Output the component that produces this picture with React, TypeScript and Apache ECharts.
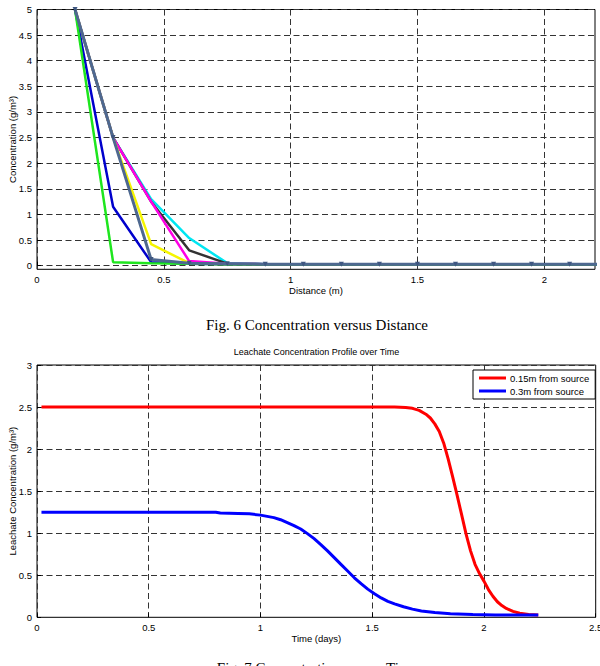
import React, { useEffect, useRef } from "react";
import * as echarts from "echarts";

// Fig. 6 – concentration along the column at successive times
const distance = [0.15, 0.3, 0.45, 0.6, 0.75, 0.9, 1.05, 1.2, 1.35, 1.5, 1.65, 1.8, 1.95, 2.1, 2.25];
const concGreen = [5, 0.07, 0.05, 0.04, 0.03, 0.03, 0.03, 0.03, 0.03, 0.03, 0.03, 0.03, 0.03, 0.03, 0.03];
const concBlue = [5, 1.15, 0.07, 0.04, 0.03, 0.03, 0.03, 0.03, 0.03, 0.03, 0.03, 0.03, 0.03, 0.03, 0.03];
const concYellow = [5, 2.5, 0.42, 0.05, 0.03, 0.03, 0.03, 0.03, 0.03, 0.03, 0.03, 0.03, 0.03, 0.03, 0.03];
const concMagenta = [5, 2.5, 1.25, 0.09, 0.04, 0.03, 0.03, 0.03, 0.03, 0.03, 0.03, 0.03, 0.03, 0.03, 0.03];
const concBlack = [5, 2.5, 1.25, 0.3, 0.04, 0.03, 0.03, 0.03, 0.03, 0.03, 0.03, 0.03, 0.03, 0.03, 0.03];
const concCyan = [5, 2.5, 1.3, 0.54, 0.05, 0.03, 0.03, 0.03, 0.03, 0.03, 0.03, 0.03, 0.03, 0.03, 0.03];
const concSlate = [5, 2.5, 0.12, 0.05, 0.04, 0.03, 0.03, 0.03, 0.03, 0.03, 0.03, 0.03, 0.03, 0.03, 0.03];
const distTicks = [0, 0.5, 1, 1.5, 2];
const concTicks = [0, 0.5, 1, 1.5, 2, 2.5, 3, 3.5, 4, 4.5, 5];

// Fig. 7 – leachate concentration over time at two depths
const timeNear = [
  0.02, 0.5, 1.0, 1.5, 1.6, 1.65, 1.68, 1.71, 1.74, 1.76, 1.78, 1.8, 1.82, 1.84, 1.86, 1.88, 1.9, 1.92, 1.94,
  1.96, 1.98, 2.0, 2.02, 2.04, 2.06, 2.08, 2.1, 2.13, 2.16, 2.2, 2.243,
];
const concNear = [
  2.5, 2.5, 2.5, 2.5, 2.5, 2.495, 2.485, 2.46, 2.415, 2.37, 2.3, 2.21, 2.07, 1.88, 1.67, 1.45, 1.22, 0.99, 0.79,
  0.63, 0.52, 0.43, 0.33, 0.25, 0.185, 0.14, 0.105, 0.07, 0.048, 0.033, 0.027,
];
const timeFar = [
  0.02, 0.5, 0.8, 0.82, 0.9, 0.95, 1.0, 1.03, 1.06, 1.09, 1.12, 1.15, 1.18, 1.21, 1.24, 1.27, 1.3, 1.33, 1.36,
  1.39, 1.42, 1.45, 1.48, 1.51, 1.54, 1.57, 1.6, 1.64, 1.68, 1.72, 1.78, 1.85, 1.95, 2.05, 2.243,
];
const concFar = [
  1.25, 1.25, 1.25, 1.24, 1.235, 1.23, 1.215, 1.2, 1.185, 1.16, 1.125, 1.09, 1.05, 0.995, 0.935, 0.865, 0.79,
  0.71, 0.63, 0.55, 0.47, 0.4, 0.335, 0.28, 0.23, 0.19, 0.16, 0.125, 0.097, 0.076, 0.056, 0.042, 0.032, 0.028, 0.027,
];
const timeTicks = [0, 0.5, 1, 1.5, 2, 2.5];
const leachTicks = [0, 0.5, 1, 1.5, 2, 2.5, 3];

const SANS = "Liberation Sans, Arial, sans-serif";
const SERIF = "Liberation Serif, Times New Roman, serif";

const pairs = (xs: number[], ys: number[]) => xs.map((x, i) => [x, ys[i]]);

const gridDash = { color: "#333", width: 1, type: [6, 3.5] as number[] };

function axisBase(ticks: number[]) {
  return {
    type: "value" as const,
    axisLine: { show: false },
    axisTick: { show: true, inside: true, length: 4, customValues: ticks, lineStyle: { color: "#000" } },
    axisLabel: { color: "#000", fontSize: 9.5, fontFamily: SANS, margin: 5, customValues: ticks },
    splitLine: { show: true, customValues: ticks, lineStyle: gridDash },
    nameLocation: "middle" as const,
    nameTextStyle: { color: "#000", fontSize: 9.5, fontFamily: SANS },
  };
}

function lineSeries(name: string, xs: number[], ys: number[], color: string, width: number, gi: number) {
  return {
    type: "line" as const,
    name,
    xAxisIndex: gi,
    yAxisIndex: gi,
    data: pairs(xs, ys),
    showSymbol: false,
    symbol: "none",
    lineStyle: { color, width },
    itemStyle: { color },
  };
}

export default function App() {
  const ref = useRef<HTMLDivElement>(null);

  useEffect(() => {
    if (!ref.current) return;
    const chart = echarts.init(ref.current, undefined, { renderer: "svg" });
    chart.setOption({
      animation: false,
      backgroundColor: "#fff",
      grid: [
        { left: 37, top: 9.5, width: 558, height: 259.8, show: true, borderColor: "#000", borderWidth: 1, containLabel: false, outerBoundsMode: "none" },
        { left: 37, top: 365, width: 558.7, height: 252.3, show: true, borderColor: "#000", borderWidth: 1, containLabel: false, outerBoundsMode: "none" },
      ],
      xAxis: [
        { ...axisBase(distTicks), gridIndex: 0, min: 0, max: 2.2, name: "Distance (m)", nameGap: 16 },
        { ...axisBase(timeTicks), gridIndex: 1, min: 0, max: 2.5, name: "Time (days)", nameGap: 14 },
      ],
      yAxis: [
        { ...axisBase(concTicks), gridIndex: 0, min: -0.07, max: 5, name: "Concentration (g/m³)", nameGap: 20, nameMoveOverlap: false },
        { ...axisBase(leachTicks), gridIndex: 1, min: 0, max: 3, name: "Leachate Concentration (g/m³)", nameGap: 20, nameMoveOverlap: false },
      ],
      legend: {
        data: ["0.15m from source", "0.3m from source"],
        orient: "vertical",
        left: 473,
        top: 370,
        icon: "rect",
        itemWidth: 27,
        itemHeight: 3,
        itemGap: 3,
        padding: [3, 6, 3, 6],
        backgroundColor: "#fff",
        borderColor: "#000",
        borderWidth: 1,
        borderRadius: 0,
        textStyle: { color: "#000", fontSize: 9.5, fontFamily: SANS, padding: [0, 0, 0, -1] },
      },
      graphic: [
        {
          type: "text",
          x: 317,
          y: 325,
          style: { text: "Fig. 6 Concentration versus Distance", fill: "#000", font: `15px ${SERIF}`, align: "center", verticalAlign: "middle" },
        },
        {
          type: "text",
          x: 316.5,
          y: 352,
          style: { text: "Leachate Concentration Profile over Time", fill: "#000", font: `9px ${SANS}`, align: "center", verticalAlign: "middle" },
        },
        {
          type: "text",
          x: 317,
          y: 668,
          style: { text: "Fig. 7 Concentration versus Time", fill: "#000", font: `15px ${SERIF}`, align: "center", verticalAlign: "middle" },
        },
      ],
      series: [
        lineSeries("cyan", distance, concCyan, "#00e6f2", 2.5, 0),
        lineSeries("black", distance, concBlack, "#333333", 2.5, 0),
        lineSeries("magenta", distance, concMagenta, "#ff00e6", 2.5, 0),
        lineSeries("yellow", distance, concYellow, "#f5f500", 2.5, 0),
        lineSeries("blue", distance, concBlue, "#0000cc", 2.5, 0),
        lineSeries("green", distance, concGreen, "#1ee61e", 2.5, 0),
        {
          ...lineSeries("slate", distance, concSlate, "#4e6890", 3, 0),
          showSymbol: true,
          symbol: "triangle",
          symbolRotate: 180,
          symbolSize: 5,
          itemStyle: { color: "#3e5680" },
        },
        lineSeries("0.15m from source", timeNear, concNear, "#ff0000", 3, 1),
        lineSeries("0.3m from source", timeFar, concFar, "#0000ff", 3, 1),
      ],
    });
    return () => chart.dispose();
  }, []);

  return <div ref={ref} style={{ position: "fixed", left: 0, top: 0, width: 600, height: 666 }} />;
}
